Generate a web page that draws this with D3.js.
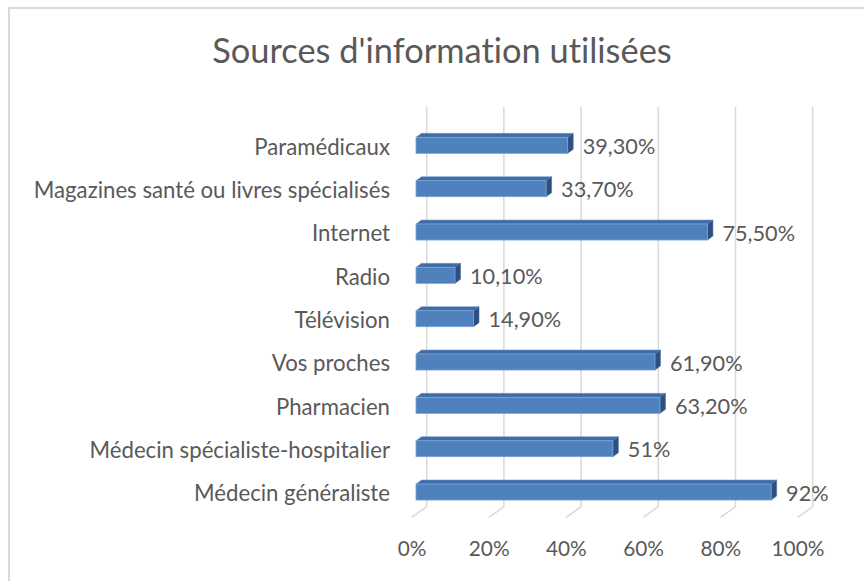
<!DOCTYPE html>
<html><head><meta charset="utf-8">
<script src="https://cdn.jsdelivr.net/npm/d3@7"></script>
<style>html,body{margin:0;padding:0;background:#fff;}svg{display:block;font-family:Lato,"Open Sans",sans-serif;font-variant-ligatures:none;font-feature-settings:"liga" 0;}</style>
</head><body>
<svg id="c" width="864" height="581"></svg>
<script>
const categories = ["Médecin généraliste","Médecin spécialiste-hospitalier","Pharmacien","Vos proches","Télévision","Radio","Internet","Magazines santé ou livres spécialisés","Paramédicaux"];
const values = [92, 51, 63.2, 61.9, 14.9, 10.1, 75.5, 33.7, 39.3];
const valueLabels = ["92%","51%","63,20%","61,90%","14,90%","10,10%","75,50%","33,70%","39,30%"];
const tickValues = [0, 20, 40, 60, 80, 100];
const tickLabels = ["0%","20%","40%","60%","80%","100%"];
const title = "Sources d'information utilisées";

const svg = d3.select("#c");
const textColor = "#595959";
const gridColor = "#d9d9d9";

// chart border
svg.append("rect").attr("x",9).attr("y",8).attr("width",870).attr("height",600)
  .attr("fill","#fff").attr("stroke","#d9d9d9").attr("stroke-width",2);

svg.append("text").attr("x",442).attr("y",63).attr("text-anchor","middle")
  .attr("font-size",34.4).attr("fill",textColor).text(title);

const x = d3.scaleLinear().domain([0,100]).range([416,802]);
const y = d3.scalePoint().domain(categories).range([513.7,123.7]).padding(0.5);
const barH = 16;
const dX = 5.5, dY = 4;

// gridlines: back wall + floor diagonal
const gTop = 107, floorBackY = 506.7, floorFrontY = 517.3, backDx = 10.7, frontDx = -4.3;
svg.append("g").selectAll("path").data(tickValues).join("path")
  .attr("d", v => `M${x(v)+backDx},${gTop}L${x(v)+backDx},${floorBackY}L${x(v)+frontDx},${floorFrontY}`)
  .attr("fill","none").attr("stroke",gridColor).attr("stroke-width",1.5);

// tick labels
svg.append("g").selectAll("text").data(tickValues).join("text")
  .attr("x", v => x(v) - 4).attr("y", 556).attr("text-anchor","middle")
  .attr("font-size",20.8).attr("fill",textColor).text((v,i) => tickLabels[i]);

// category labels
svg.append("g").selectAll("text").data(categories).join("text")
  .attr("x", 390).attr("y", c => y(c)).attr("dy","0.42em").attr("text-anchor","end")
  .attr("font-size",22.2).attr("fill",textColor).text(c => c);

// bars
const bars = svg.append("g").selectAll("g").data(categories).join("g");
bars.append("path").attr("d", (c,i) => {
  const x0 = x(0), x1 = x(values[i]), y0 = y(c) - barH/2;
  return `M${x0},${y0}L${x1},${y0}L${x1+dX},${y0-dY}L${x0+dX},${y0-dY}Z`;
}).attr("fill","#3f6ca6").attr("stroke","#6d97cc").attr("stroke-width",0.6);
bars.append("path").attr("d", (c,i) => {
  const x1 = x(values[i]), y0 = y(c) - barH/2;
  return `M${x1},${y0}L${x1+dX},${y0-dY}L${x1+dX},${y0+barH-dY}L${x1},${y0+barH}Z`;
}).attr("fill","#2d5080").attr("stroke","#4a6fa0").attr("stroke-width",0.6);
bars.append("rect")
  .attr("x", x(0)).attr("y", c => y(c) - barH/2)
  .attr("width", (c,i) => x(values[i]) - x(0)).attr("height", barH)
  .attr("fill","#4f81bd").attr("stroke","#7ba3d6").attr("stroke-width",0.8);

// value labels
svg.append("g").selectAll("text").data(categories).join("text")
  .attr("x", (c,i) => x(values[i]) + 15).attr("y", c => y(c)).attr("dy","0.4em")
  .attr("font-size",21.7).attr("fill",textColor).text((c,i) => valueLabels[i]);
</script>
</body></html>
